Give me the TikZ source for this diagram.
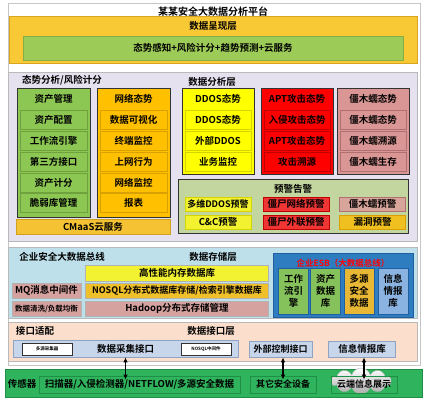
\documentclass[tikz,border=0pt]{standalone}
\usepackage{fontspec}
\setmainfont{Noto Sans CJK SC}[BoldFont={Noto Sans CJK SC Bold}]
\usetikzlibrary{shapes.symbols,arrows.meta}
\definecolor{pres}{HTML}{F8C935}\definecolor{presD}{HTML}{D9A520}
\definecolor{gbar}{HTML}{9DCB57}\definecolor{gbarD}{HTML}{86AD45}
\definecolor{lav}{HTML}{E5E1EE}
\definecolor{cgreen}{HTML}{8CC653}\definecolor{cgreenD}{HTML}{6FA23C}
\definecolor{corange}{HTML}{FFC000}\definecolor{corangeD}{HTML}{D9A000}
\definecolor{cyel}{HTML}{FFFF00}\definecolor{cyelD}{HTML}{D4D400}
\definecolor{cred}{HTML}{FF0000}\definecolor{credD}{HTML}{C00000}
\definecolor{cpink}{HTML}{D99694}\definecolor{cpinkD}{HTML}{B07070}
\definecolor{warn}{HTML}{C4D6A0}
\definecolor{wyel}{HTML}{F2F230}\definecolor{wred}{HTML}{F03535}
\definecolor{wpink}{HTML}{D8A59A}\definecolor{wgold}{HTML}{F0C020}
\definecolor{cm}{HTML}{F4C232}\definecolor{cmD}{HTML}{D0A020}
\definecolor{lblue}{HTML}{BEE0EA}
\definecolor{byel}{HTML}{F2F232}\definecolor{bora}{HTML}{F0C02A}\definecolor{bpink}{HTML}{D6A2A0}
\definecolor{esb}{HTML}{2F7DC1}\definecolor{esbD}{HTML}{1F5F9F}
\definecolor{egreen}{HTML}{85C25C}\definecolor{egold}{HTML}{E7B735}\definecolor{eblue}{HTML}{8BB3E1}
\definecolor{peach}{HTML}{FBDFCC}
\definecolor{ifbar}{HTML}{C7D6EB}\definecolor{ifbarD}{HTML}{8FA3C2}
\definecolor{botg}{HTML}{2FB35C}\definecolor{botgD}{HTML}{1E8F45}
\tikzset{
  tx/.style={font=\fontsize{9.5}{11}\selectfont\bfseries, inner sep=0pt, align=center},
  sec/.style={draw=gray!55, line width=0.8pt, rectangle},
  col/.style={draw=black!80, line width=0.8pt, rectangle},
  sub/.style={tx, draw, rectangle, minimum width=67pt, minimum height=19pt, line width=0.7pt},
  sub2/.style={sub, minimum width=66pt},
  cell/.style={tx, draw, rectangle, minimum width=66pt, minimum height=14pt, line width=0.7pt},
  bar/.style={tx, draw=gray!60, rectangle, line width=0.7pt},
  esbin/.style={tx, draw=esbD, rectangle, minimum width=30pt, minimum height=46pt, line width=0.7pt, font=\fontsize{9.5}{12}\selectfont\bfseries},
  bot/.style={tx, draw=botgD, rectangle, line width=0.8pt, minimum height=17pt},
  dbl/.style={{Latex[length=5pt,width=4.5pt]}-{Latex[length=5pt,width=4.5pt]}, line width=1.1pt},
}
\begin{document}
\begin{tikzpicture}[x=1pt,y=-1pt]
\useasboundingbox (0,0) rectangle (427,403);
\fill[white] (0,0) rectangle (427,403);
% outer frame
\node[draw=gray!45, fill=white, minimum width=412pt, minimum height=362pt, line width=0.8pt] (frame) at (214,184) {};
\node[tx, font=\fontsize{10}{11}\selectfont\bfseries] (title) at (213,12) {某某安全大数据分析平台};
% presentation layer
\node[draw=presD, fill=pres, minimum width=408pt, minimum height=47pt, line width=0.8pt] (pres) at (213,39.5) {};
\node[tx] (presl) at (213,26) {数据呈现层};
\node[tx, draw=gbarD, fill=gbar, minimum width=380pt, minimum height=24pt, line width=0.8pt] (gbar) at (213,48) {态势感知+风险计分+趋势预测+云服务};
% analysis section
\node[sec, fill=lav, minimum width=409pt, minimum height=169pt] (ana) at (212.5,156.5) {};
\node[tx] (anal) at (62,80) {态势分析/风险计分};
\node[col, fill=cgreen, minimum width=73pt, minimum height=129pt] (asset) at (53.5,152.5) {};
\node[tx] (assetH) at (53.5,99) {资产管理};
\node[sub, fill=cgreen, draw=cgreenD] (a1) at (53.5,120) {资产配置};
\node[sub, fill=cgreen, draw=cgreenD] (a2) at (53.5,141) {工作流引擎};
\node[sub, fill=cgreen, draw=cgreenD] (a3) at (53.5,162) {第三方接口};
\node[sub, fill=cgreen, draw=cgreenD] (a4) at (53.5,182.5) {资产计分};
\node[sub, fill=cgreen, draw=cgreenD] (a5) at (53.5,203) {脆弱库管理};
\node[col, fill=corange, minimum width=73pt, minimum height=129pt] (net) at (133.5,152.5) {};
\node[tx] (netH) at (133.5,99) {网络态势};
\node[sub, fill=corange, draw=corangeD] (n1) at (133.5,120) {数据可视化};
\node[sub, fill=corange, draw=corangeD] (n2) at (133.5,141) {终端监控};
\node[sub, fill=corange, draw=corangeD] (n3) at (133.5,162) {上网行为};
\node[sub, fill=corange, draw=corangeD] (n4) at (133.5,182.5) {网络监控};
\node[sub, fill=corange, draw=corangeD] (n5) at (133.5,203) {报表};
\node[tx, draw=cmD, fill=cm, minimum width=154pt, minimum height=15pt, line width=0.7pt] (cmaas) at (93,226.5) {CMaaS云服务};
\node[tx] (dal) at (212,82) {数据分析层};
\node[col, fill=cyel, minimum width=72pt, minimum height=86pt] (ddos) at (218,131) {};
\node[tx] (ddosH) at (218,98.5) {DDOS态势};
\node[sub2, fill=cyel, draw=cyelD] (d1) at (218,120) {DDOS态势};
\node[sub2, fill=cyel, draw=cyelD] (d2) at (218,141) {外部DDOS};
\node[sub2, fill=cyel, draw=cyelD] (d3) at (218,162) {业务监控};
\node[col, fill=cred, minimum width=72pt, minimum height=86pt] (apt) at (297,131) {};
\node[tx] (aptH) at (297,98.5) {APT攻击态势};
\node[sub2, fill=cred, draw=credD] (p1) at (297,120) {入侵攻击态势};
\node[sub2, fill=cred, draw=credD] (p2) at (297,141) {APT攻击态势};
\node[sub2, fill=cred, draw=credD] (p3) at (297,162) {攻击溯源};
\node[col, fill=cpink, minimum width=72pt, minimum height=86pt] (bot) at (373,131) {};
\node[tx] (botH) at (373,98.5) {僵木蠕态势};
\node[sub2, fill=cpink, draw=cpinkD] (b1) at (373,120) {僵木蠕态势};
\node[sub2, fill=cpink, draw=cpinkD] (b2) at (373,141) {僵木蠕溯源};
\node[sub2, fill=cpink, draw=cpinkD] (b3) at (373,162) {僵木蠕生存};
\node[col, fill=warn, minimum width=230pt, minimum height=54pt] (warnbox) at (293,206) {};
\node[tx] (warnl) at (293,189) {预警告警};
\node[cell, fill=wyel, draw=cyelD, font=\fontsize{9}{11}\selectfont\bfseries] (w1) at (218,204) {多维DDOS预警};
\node[cell, fill=wred, draw=credD] (w2) at (296,204) {僵尸网络预警};
\node[cell, fill=wpink, draw=cpinkD] (w3) at (372.5,204) {僵木蠕预警};
\node[cell, fill=wyel, draw=cyelD] (w4) at (218,222) {C\&C预警};
\node[cell, fill=wred, draw=credD] (w5) at (296,222) {僵尸外联预警};
\node[cell, fill=wgold, draw=corangeD] (w6) at (372.5,222) {漏洞预警};
% bus / storage section
\node[sec, fill=lblue, minimum width=409pt, minimum height=71pt] (bus) at (212.5,282.5) {};
\node[tx] (busl) at (62,257) {企业安全大数据总线};
\node[tx] (stl) at (213,257) {数据存储层};
\node[bar, fill=byel, minimum width=183pt, minimum height=16pt] (mem) at (177,273) {高性能内存数据库};
\node[bar, fill=bora, minimum width=183pt, minimum height=15pt, font=\fontsize{9}{11}\selectfont\bfseries] (nosql) at (177,290.5) {NOSQL分布式数据库存储/检索引擎数据库};
\node[bar, fill=bpink, minimum width=183pt, minimum height=15pt] (hadoop) at (177,308.5) {Hadoop分布式存储管理};
\node[bar, fill=bpink, minimum width=69pt, minimum height=15pt] (mq) at (46.5,290.5) {MQ消息中间件};
\node[bar, fill=bpink, minimum width=69pt, minimum height=15pt, font=\fontsize{7.5}{9}\selectfont\bfseries] (clean) at (46.5,308.5) {数据清洗/负载均衡};
\node[draw=esbD, fill=esb, rectangle, minimum width=140pt, minimum height=64pt, line width=0.8pt] (esbbox) at (343,285) {};
\node[tx, text=red, font=\fontsize{8.5}{10}\selectfont\bfseries] (esbl) at (343,263) {企业ESB（大数据总线）};
\node[esbin, fill=egreen] (e1) at (293.5,291) {工作\\流引\\擎};
\node[esbin, fill=egreen] (e2) at (325.5,291) {资产\\数据\\库};
\node[esbin, fill=egold] (e3) at (359,291) {多源\\安全\\数据};
\node[esbin, fill=eblue] (e4) at (393,291) {信息\\情报\\库};
% interface section
\node[sec, fill=peach, minimum width=409pt, minimum height=39pt] (ifsec) at (212.5,341.5) {};
\node[tx] (ifl) at (35,331) {接口适配};
\node[tx] (ifl2) at (211,331) {数据接口层};
\node[tx, draw=ifbarD, fill=ifbar, minimum width=225pt, minimum height=17pt, line width=0.7pt] (ifbar) at (125.5,348.5) {数据采集接口};
\node[draw=black!80, fill=white, rectangle, minimum width=50pt, minimum height=12pt, inner sep=0pt, line width=0.7pt, font=\fontsize{4.5}{5}\selectfont\bfseries] (coll) at (47,349) {多源采集器};
\node[draw=black!80, fill=white, rectangle, minimum width=50pt, minimum height=12pt, inner sep=0pt, line width=0.7pt, font=\fontsize{4.5}{5}\selectfont\bfseries] (nmid) at (206,349) {NOSQL中间件};
\node[tx, draw=ifbarD, fill=ifbar, minimum width=63pt, minimum height=16pt, line width=0.7pt, font=\fontsize{9}{11}\selectfont\bfseries] (ctrl) at (280.5,349) {外部控制接口};
\node[tx, draw=ifbarD, fill=ifbar, minimum width=67pt, minimum height=16pt, line width=0.7pt] (intel) at (362,349) {信息情报库};
% sensor band
\node[draw=botgD, fill=botg, rectangle, minimum width=417pt, minimum height=28pt, line width=0.8pt] (sens) at (213.5,383) {};
\node[tx] (sensl) at (22,383.5) {传感器};
\node[cloud, cloud puffs=10, aspect=2.6, draw=gray!60, top color=white, bottom color=gray!65, minimum width=60pt, minimum height=26pt, inner sep=0pt] (cloud) at (361,381) {};
\node[bot, minimum width=201pt] (s1) at (139.5,384.5) {扫描器/入侵检测器/NETFLOW/多源安全数据};
\node[bot, minimum width=66pt, font=\fontsize{9}{11}\selectfont\bfseries] (s2) at (283,384.5) {其它安全设备};
\node[bot, minimum width=66pt, font=\fontsize{9}{11}\selectfont\bfseries] (s3) at (364,384.5) {云端信息展示};
% arrows
\draw[dbl] (ifbar.south) -- ([yshift=-4pt]ifbar.south |- s1.north);
\draw[dbl] (s2.north |- ctrl.south) -- ([yshift=-4pt]s2.north);
\draw[dbl] (s3.north |- intel.south) -- ([yshift=-4pt]s3.north);
\end{tikzpicture}
\end{document}
